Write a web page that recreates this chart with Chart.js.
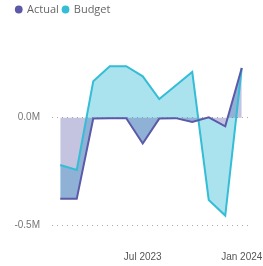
<!DOCTYPE html>
<html>
<head>
<meta charset="utf-8">
<script src="https://cdn.jsdelivr.net/npm/chart.js@4"></script>
<style>
  html, body { margin: 0; padding: 0; background: #fff; }
  #wrap { width: 263px; height: 266px; }
</style>
</head>
<body>
<div id="wrap"><canvas id="chart"></canvas></div>
<script>
// months Feb 2023 .. Jan 2024, values in millions
const months = ["Feb 2023", "Mar 2023", "Apr 2023", "May 2023", "Jun 2023", "Jul 2023",
  "Aug 2023", "Sep 2023", "Oct 2023", "Nov 2023", "Dec 2023", "Jan 2024"];
const actual = [-0.378, -0.378, -0.004, -0.002, -0.002, -0.12, -0.004, -0.002, -0.02, 0.002, -0.04, 0.232];
const budget = [-0.22, -0.243, 0.17, 0.24, 0.24, 0.193, 0.087, 0.15, 0.213, -0.383, -0.456, 0.232];
const shownLabels = ["Jul 2023", "Jan 2024"];
const yTicks = [-0.5, 0];

const ctx = document.getElementById("chart").getContext("2d");

new Chart(ctx, {
  type: "line",
  data: {
    labels: months,
    datasets: [
      {
        label: "Actual",
        data: actual,
        borderColor: "#5c5aa8",
        backgroundColor: "rgba(92,90,168,0.36)",
        borderWidth: 2,
        pointRadius: 0,
        fill: "origin"
      },
      {
        label: "Budget",
        data: budget,
        borderColor: "#35bdd6",
        backgroundColor: "rgba(53,189,214,0.42)",
        borderWidth: 2,
        pointRadius: 0,
        fill: 0
      }
    ]
  },
  options: {
    responsive: true,
    maintainAspectRatio: false,
    animation: false,
    layout: { padding: { left: 12, right: 13, top: 0, bottom: 0 } },
    plugins: {
      filler: { drawTime: "beforeDatasetsDraw" },
      tooltip: { enabled: false },
      legend: {
        position: "top",
        align: "start",
        labels: {
          usePointStyle: true,
          pointStyle: "circle",
          boxWidth: 5.5,
          boxHeight: 5.5,
          padding: 4,
          color: "#666",
          font: { family: "Open Sans", size: 11 },
          generateLabels(chart) {
            const items = Chart.defaults.plugins.legend.labels.generateLabels(chart);
            items.forEach(it => {
              it.fillStyle = it.strokeStyle;
              it.lineWidth = 0;
            });
            return items;
          }
        }
      }
    },
    scales: {
      x: {
        offset: true,
        grid: { display: false, drawTicks: false },
        border: { display: false },
        afterFit(scale) {
          scale.height = 18;
          scale.paddingLeft = 0;
          scale.paddingRight = 0;
        },
        ticks: {
          autoSkip: false,
          maxRotation: 0,
          padding: 3,
          color: "#555",
          font: { family: "Liberation Sans", size: 10 },
          callback(value) {
            const label = this.getLabelForValue(value);
            return shownLabels.includes(label) ? label : "";
          }
        }
      },
      y: {
        min: -0.607,
        max: 0.432,
        afterBuildTicks(scale) {
          scale.ticks = yTicks.map(v => ({ value: v }));
        },
        afterFit(scale) {
          scale.width = 40;
        },
        grid: { color: "#aaaaaa", drawTicks: false, lineWidth: 1 },
        border: { display: false, dash: [1, 4] },
        ticks: {
          padding: 12,
          color: "#777",
          font: { family: "Liberation Sans", size: 10 },
          callback: v => v.toFixed(1) + "M"
        }
      }
    }
  }
});
</script>
</body>
</html>
